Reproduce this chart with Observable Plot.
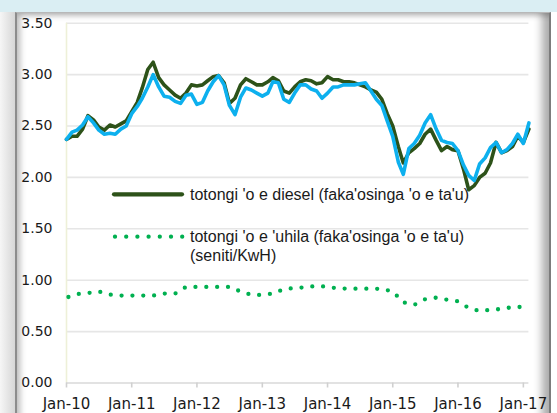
<!DOCTYPE html>
<html>
<head>
<meta charset="utf-8">
<script src="https://cdn.jsdelivr.net/npm/d3@7"></script>
<script src="https://cdn.jsdelivr.net/npm/@observablehq/plot@0.6"></script>
<style>
  html, body { margin: 0; padding: 0; background: #ffffff; }
  #page { position: relative; width: 557px; height: 413px; overflow: hidden; background: #ffffff; }
  #band { position: absolute; left: 0; top: 0; width: 557px; height: 12px; background: #daeef3; }
  #leftstrip { position: absolute; left: 0; top: 12px; width: 15px; height: 401px;
    background: linear-gradient(to right, #f6f6f6, #d6d6d6); }
  #panel { position: absolute; left: 15px; top: 12px; width: 532px; height: 420px; background: #ffffff;
    border-left: 2px solid #8c8c8c; border-right: 2px solid #7c7c7c; border-top: 1px solid #b8b8b8;
    box-shadow: inset 5px 4px 6px -2px rgba(0,0,0,0.28), inset -10px 0 9px -3px rgba(0,0,0,0.33); }
  #chart { position: absolute; left: 0; top: 0; }
  #legend { position: absolute; left: 0; top: 0; }
</style>
</head>
<body>
<div id="page">
  <div id="band"></div>
  <div id="leftstrip"></div>
  <div id="panel"></div>
  <div id="chart"></div>
  <svg id="legend" width="557" height="413"></svg>
</div>
<script>
// ---- Data ----
const diesel = [
  2.37, 2.40, 2.40, 2.47, 2.60, 2.56, 2.49, 2.46, 2.51, 2.49, 2.52, 2.55,
  2.64, 2.73, 2.87, 3.05, 3.12, 2.97, 2.90, 2.85, 2.80, 2.77, 2.82, 2.90,
  2.89, 2.90, 2.94, 2.98, 2.99, 2.92, 2.72, 2.77, 2.90, 2.96, 2.93, 2.90,
  2.90, 2.93, 2.97, 2.94, 2.84, 2.82, 2.88, 2.93, 2.95, 2.94, 2.91, 2.92,
  2.98, 2.95, 2.95, 2.93, 2.93, 2.92, 2.90, 2.88, 2.85, 2.83, 2.76, 2.62,
  2.50, 2.30, 2.14, 2.24, 2.28, 2.33, 2.42, 2.47, 2.36, 2.26, 2.30, 2.27,
  2.26, 2.08, 1.88, 1.92, 2.00, 2.04, 2.14, 2.34, 2.24, 2.26, 2.30, 2.40,
  2.34, 2.47
];
const blueSeries = [
  2.37, 2.44, 2.46, 2.51, 2.59, 2.53, 2.46, 2.42, 2.43, 2.42, 2.47, 2.50,
  2.62, 2.69, 2.77, 2.88, 3.00, 2.88, 2.79, 2.78, 2.74, 2.72, 2.80, 2.81,
  2.71, 2.73, 2.84, 2.93, 2.99, 2.90, 2.70, 2.61, 2.78, 2.87, 2.85, 2.82,
  2.79, 2.82, 2.93, 2.92, 2.76, 2.73, 2.82, 2.90, 2.90, 2.86, 2.84, 2.77,
  2.82, 2.88, 2.88, 2.90, 2.90, 2.90, 2.91, 2.92, 2.84, 2.76, 2.70, 2.55,
  2.40, 2.15, 2.03, 2.28, 2.33, 2.41, 2.53, 2.61, 2.47, 2.36, 2.34, 2.33,
  2.26, 2.12, 2.02, 1.97, 2.13, 2.19, 2.29, 2.34, 2.24, 2.27, 2.33, 2.42,
  2.33, 2.53
];
const electricity = [
  0.83, 0.865, 0.875, 0.89, 0.86, 0.85, 0.85, 0.85, 0.85, 0.87, 0.87,
  0.935, 0.935, 0.935, 0.935, 0.935, 0.89, 0.857, 0.857, 0.87, 0.912,
  0.925, 0.93, 0.945, 0.935, 0.92, 0.918, 0.918, 0.918, 0.915, 0.89,
  0.785, 0.76, 0.815, 0.83, 0.81, 0.795, 0.73, 0.70, 0.712, 0.72, 0.738, 0.74
];
const yTicks = [0, 0.5, 1.0, 1.5, 2.0, 2.5, 3.0, 3.5];
const legendLabels = [
  "totongi 'o e diesel (faka'osinga 'o e ta'u)",
  "totongi 'o e 'uhila (faka'osinga 'o e ta'u)",
  "(seniti/KwH)"
];

const start = new Date(Date.UTC(2010, 0, 1));
const end = new Date(Date.UTC(2017, 1, 1));
const monthDates = d3.utcMonth.range(start, d3.utcMonth.offset(end, 1));
const elecDates = d3.utcMonth.range(start, d3.utcMonth.offset(end, 1), 2);
const xTicks = d3.utcYear.range(start, d3.utcMonth.offset(end, 1));

const dieselData = monthDates.map((d, i) => ({date: d, value: diesel[i]}));
const blueData = monthDates.map((d, i) => ({date: d, value: blueSeries[i]}));
const elecData = elecDates.map((d, i) => ({date: d, value: electricity[i]}));

const fmtX = d3.utcFormat("%b-%y");

const chart = Plot.plot({
  width: 557,
  height: 413,
  marginLeft: 66,
  marginRight: 28.6,
  marginTop: 22.7,
  marginBottom: 30.5,
  style: {background: "transparent", fontFamily: "DejaVu Sans", overflow: "visible"},
  x: {type: "utc", domain: [start, end]},
  y: {domain: [0, 3.5]},
  marks: [
    Plot.gridY(yTicks.filter(d => d > 0), {stroke: "#e6e6e6", strokeOpacity: 1, strokeWidth: 1.6}),
    Plot.ruleX([start], {stroke: "#eef0d8", strokeWidth: 1.6}),
    Plot.ruleY([0], {stroke: "#d9d9d9", strokeWidth: 1.6}),
    Plot.axisY({ticks: yTicks, tickFormat: d3.format(".2f"), tickSize: 0, tickPadding: 14,
      fontSize: 14, fill: "#1a1a1a", label: null}),
    Plot.axisX({ticks: xTicks, tickFormat: fmtX, tickSize: 5, tickPadding: 10,
      fontSize: 15, fill: "#1a1a1a", stroke: "#d0d0d0", strokeWidth: 1.6, label: null}),
    Plot.line(dieselData, {x: "date", y: "value", stroke: "#2d5219", strokeWidth: 3.6,
      strokeLinejoin: "round", strokeLinecap: "round"}),
    Plot.line(blueData, {x: "date", y: "value", stroke: "#0db0ee", strokeWidth: 3.6,
      strokeLinejoin: "round", strokeLinecap: "round"}),
    Plot.line(elecData, {x: "date", y: "value", stroke: "#00b050", strokeWidth: 4.3,
      strokeDasharray: "0 10.85", strokeDashoffset: 8.8, strokeLinecap: "round"})
  ]
});
document.getElementById("chart").appendChild(chart);

// ---- Legend (inside the plot area, as in the reference) ----
const lg = d3.select("#legend");
lg.append("line").attr("x1", 114).attr("x2", 182).attr("y1", 194.3).attr("y2", 194.3)
  .attr("stroke", "#2d5219").attr("stroke-width", 4.2).attr("stroke-linecap", "round");
lg.append("line").attr("x1", 115).attr("x2", 183).attr("y1", 236.7).attr("y2", 236.7)
  .attr("stroke", "#00b050").attr("stroke-width", 4.3).attr("stroke-linecap", "round")
  .attr("stroke-dasharray", "0 11.2");
const lt = lg.append("g").attr("font-family", "Liberation Sans, Arial, sans-serif")
  .attr("font-size", 16).attr("fill", "#1a1a1a");
lt.append("text").attr("x", 190).attr("y", 199.8).text(legendLabels[0]);
lt.append("text").attr("x", 190).attr("y", 242).text(legendLabels[1]);
lt.append("text").attr("x", 190).attr("y", 260.5).text(legendLabels[2]);
</script>
</body>
</html>
